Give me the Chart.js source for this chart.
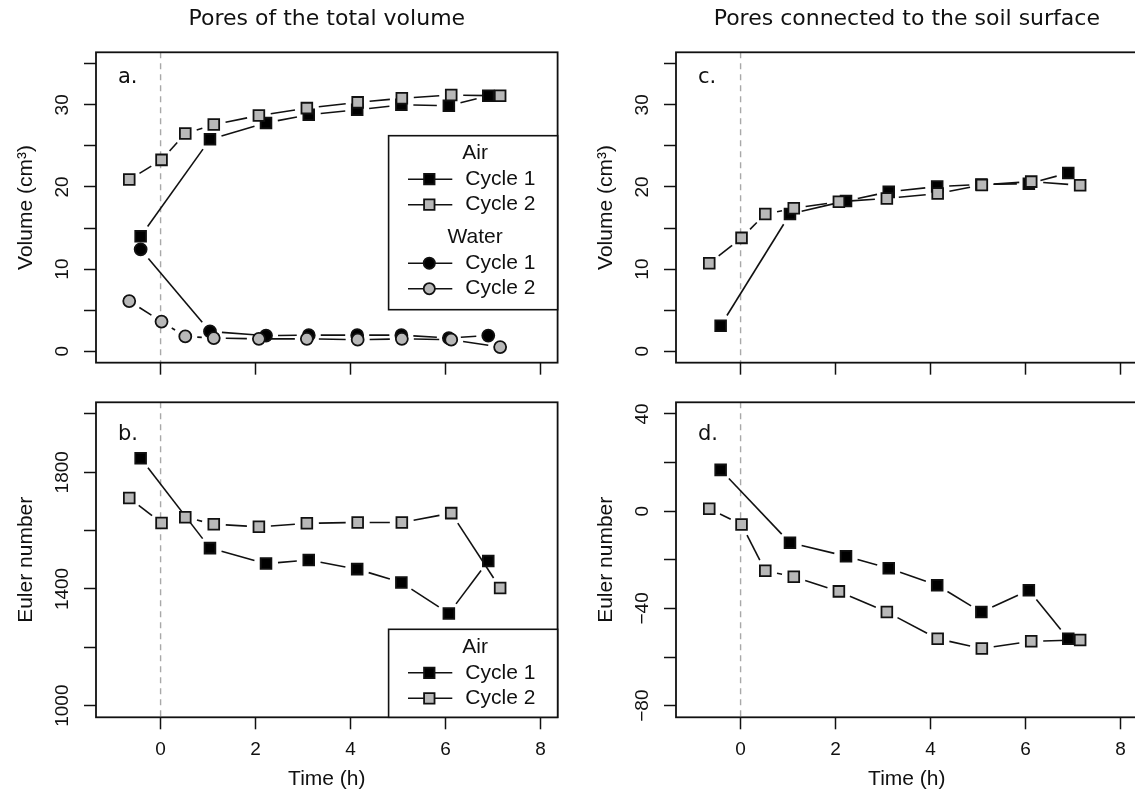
<!DOCTYPE html>
<html>
<head>
<meta charset="utf-8">
<title>Pores of the total volume / connected to the soil surface</title>
<script src="https://cdn.jsdelivr.net/npm/chart.js@4.4.1/dist/chart.umd.min.js"></script>
<style>
  html, body { margin: 0; padding: 0; background: #fff; width: 1135px; height: 796px; overflow: hidden; }
  canvas { position: absolute; }
  #panel-a { left: 0; top: 0; }
  #panel-b { left: 0; top: 385px; }
  #panel-c { left: 580px; top: 0; }
  #panel-d { left: 580px; top: 385px; }
</style>
</head>
<body>
<canvas id="panel-a" width="567" height="385"></canvas>
<canvas id="panel-b" width="567" height="411"></canvas>
<canvas id="panel-c" width="567" height="385"></canvas>
<canvas id="panel-d" width="567" height="411"></canvas>
<script>
// ---- data ----
const eventTime = 0;

const timeLim = [-1, 8];
const timeStep = 2;
const timeTickLabels = [0, 2, 4, 6, 8];

const volumeLim = [0, 35];
const volumeStep = 5;
const volumeTickLabels = [0, 10, 20, 30];

const eulerLim = [1000, 2000];
const eulerStep = 200;
const eulerTickLabels = [1000, 1400, 1800];

const surfEulerLim = [-80, 40];
const surfEulerStep = 20;
const surfEulerTickLabels = [-80, -40, 0, 40];

const cycle1Time = [-0.42, 1.04, 2.22, 3.12, 4.14, 5.07, 6.07, 6.90];
const cycle2Time = [-0.66, 0.02, 0.52, 1.12, 2.07, 3.08, 4.15, 5.08, 6.12, 7.15];

// a. pores of the total volume
const airVolC1 = [14.0, 25.8, 27.8, 28.8, 29.4, 30.0, 29.9, 31.1];
const airVolC2 = [20.9, 23.3, 26.5, 27.6, 28.7, 29.6, 30.3, 30.8, 31.2, 31.1];
const waterVolC1 = [12.4, 2.4, 1.9, 1.95, 1.95, 1.95, 1.6, 1.9];
const waterVolC2 = [6.1, 3.6, 1.8, 1.6, 1.5, 1.5, 1.4, 1.5, 1.4, 0.5];
// b.
const eulerC1 = [1848, 1540, 1487, 1499, 1468, 1422, 1316, 1496];
const eulerC2 = [1712, 1626, 1646, 1622, 1613, 1625, 1628, 1628, 1660, 1403];
// c. pores connected to the soil surface
const surfVolC1 = [3.1, 16.7, 18.3, 19.4, 20.05, 20.3, 20.4, 21.7];
const surfVolC2 = [10.7, 13.8, 16.7, 17.4, 18.2, 18.6, 19.2, 20.25, 20.65, 20.2];
// d.
const surfEulerC1 = [17, -13, -18.5, -23.5, -30.5, -41.5, -32.5, -52.5];
const surfEulerC2 = [1, -5.5, -24.5, -27, -33, -41.5, -52.5, -56.5, -53.5, -53];

// ---- look ----
const SANS = '"Liberation Sans", Arial, sans-serif';
const WIDE = '"DejaVu Sans", Verdana, sans-serif';
const TICK_SIZE = 19;
const LABEL_SIZE = 21;
const GREY = '#b8b8b8';
const LINE_W = 1.6;
const GAP = 12; // gap left round each point, like R type = "b"

Chart.defaults.color = '#111';
Chart.defaults.font.family = SANS;

const fmt = v => (v < 0 ? '\u2212' + Math.abs(v) : String(v));
const expand = ([lo, hi]) => [lo - 0.04 * (hi - lo), hi + 0.04 * (hi - lo)];
const pts = (xs, ys) => xs.map((x, i) => ({ x, y: ys[i] }));

const measureCtx = document.createElement('canvas').getContext('2d');
function yTickPad(labels) {
    measureCtx.font = `${TICK_SIZE}px ${SANS}`;
    const widest = Math.max(...labels.map(v => measureCtx.measureText(fmt(v)).width));
    return 21.5 - widest / 2;
}

function series(label, group, xs, ys, shape, fill) {
    return {
        label, group,
        data: pts(xs, ys),
        pointStyle: shape,
        pointRadius: shape === 'rect' ? 7.6 : 6,
        backgroundColor: fill,
        borderColor: '#111',
        borderWidth: 1.8,
    };
}

const panelDecor = {
    id: 'panelDecor',
    beforeDatasetsDraw(chart) {
        const { ctx, chartArea: a, scales: { x } } = chart;
        ctx.save();
        ctx.beginPath();
        ctx.rect(a.left, a.top, a.width, a.height);
        ctx.clip();

        // dashed line at the start of the drying
        const x0 = x.getPixelForValue(eventTime);
        ctx.strokeStyle = '#a8a8a8';
        ctx.lineWidth = 1.4;
        ctx.setLineDash([6, 5]);
        ctx.beginPath();
        ctx.moveTo(x0, a.top);
        ctx.lineTo(x0, a.bottom);
        ctx.stroke();
        ctx.setLineDash([]);

        // connecting lines, broken round each point
        ctx.strokeStyle = '#111';
        ctx.lineWidth = LINE_W;
        chart.data.datasets.forEach((ds, i) => {
            const els = chart.getDatasetMeta(i).data;
            for (let k = 1; k < els.length; k++) {
                const p = els[k - 1], q = els[k];
                const dx = q.x - p.x, dy = q.y - p.y;
                const len = Math.hypot(dx, dy);
                if (len <= 2 * GAP + 1) continue;
                const ux = dx / len, uy = dy / len;
                ctx.beginPath();
                ctx.moveTo(p.x + ux * GAP, p.y + uy * GAP);
                ctx.lineTo(q.x - ux * GAP, q.y - uy * GAP);
                ctx.stroke();
            }
        });
        ctx.restore();
    },
    afterDatasetsDraw(chart, args, opts) {
        const { ctx, chartArea: a } = chart;
        ctx.save();

        // frame
        ctx.strokeStyle = '#111';
        ctx.lineWidth = 1.8;
        ctx.strokeRect(a.left, a.top, a.width, a.height);

        // panel letter
        ctx.fillStyle = '#111';
        ctx.font = `${LABEL_SIZE}px ${WIDE}`;
        ctx.textAlign = 'left';
        ctx.textBaseline = 'alphabetic';
        ctx.fillText(opts.letter, a.left + 22, a.top + opts.letterY);

        // legend with group headings
        const lg = opts.legend;
        if (lg) {
            const w = 169;
            const left = a.right - w;
            const top = lg.bottom ? a.bottom - lg.height : a.top + lg.top;
            ctx.fillStyle = '#fff';
            ctx.fillRect(left, top, w, lg.height);
            ctx.strokeStyle = '#111';
            ctx.lineWidth = 1.6;
            ctx.strokeRect(left, top, w, lg.height);

            ctx.font = `${LABEL_SIZE}px ${SANS}`;
            ctx.textBaseline = 'middle';
            let y = top + 18;
            lg.groups.forEach((g, gi) => {
                if (gi > 0) y += 33;
                ctx.fillStyle = '#111';
                ctx.textAlign = 'center';
                ctx.fillText(g, left + w / 2 + 2, y);
                chart.data.datasets.filter(ds => ds.group === g).forEach(ds => {
                    y += 25.5;
                    ctx.strokeStyle = '#111';
                    ctx.lineWidth = LINE_W;
                    ctx.beginPath();
                    ctx.moveTo(left + 19.4, y);
                    ctx.lineTo(left + 63.7, y);
                    ctx.stroke();
                    ctx.fillStyle = ds.backgroundColor;
                    ctx.lineWidth = ds.borderWidth;
                    Chart.helpers.drawPoint(ctx, {
                        pointStyle: ds.pointStyle,
                        radius: ds.pointStyle === 'rect' ? 7.4 : 5.6,
                        borderWidth: ds.borderWidth,
                        rotation: 0
                    }, left + 40.7, y);
                    ctx.fillStyle = '#111';
                    ctx.textAlign = 'left';
                    ctx.fillText(ds.label, left + 76.7, y);
                });
            });
        }
        ctx.restore();
    }
};

function makePanel(id, cfg) {
    const top = cfg.title !== undefined;
    const [xMin, xMax] = expand(timeLim);
    const [yMin, yMax] = expand(cfg.yLim);
    const datasets = cfg.datasets.map((ds, i, all) => ({ ...ds, order: all.length - 1 - i }));

    return new Chart(document.getElementById(id), {
        type: 'scatter',
        data: { datasets },
        options: {
            responsive: false,
            animation: false,
            events: [],
            layout: { padding: { left: 0, right: 6, top: top ? 0 : 17.3, bottom: 0 } },
            scales: {
                x: {
                    type: 'linear',
                    min: xMin, max: xMax,
                    afterFit: s => { s.height = top ? 17.6 : 78.7; },
                    border: { display: false },
                    grid: { drawOnChartArea: false, drawTicks: true, tickLength: 12, tickWidth: 1.5, tickColor: '#111' },
                    ticks: {
                        display: !top,
                        stepSize: timeStep,
                        includeBounds: false,
                        autoSkip: false,
                        maxRotation: 0,
                        padding: 9.3,
                        font: { size: TICK_SIZE },
                        callback: v => timeTickLabels.includes(v) ? fmt(v) : ''
                    },
                    title: {
                        display: !top,
                        text: 'Time (h)',
                        font: { size: LABEL_SIZE },
                        padding: { top: 0, bottom: 4.4 }
                    }
                },
                y: {
                    type: 'linear',
                    min: yMin, max: yMax,
                    afterFit: s => { s.width = 96; },
                    border: { display: false },
                    grid: { drawOnChartArea: false, drawTicks: true, tickLength: 12, tickWidth: 1.5, tickColor: '#111' },
                    ticks: {
                        stepSize: cfg.yStep,
                        includeBounds: false,
                        autoSkip: false,
                        minRotation: 90,
                        maxRotation: 90,
                        crossAlign: 'center',
                        padding: yTickPad(cfg.yLabels),
                        font: { size: TICK_SIZE },
                        callback: v => cfg.yLabels.some(l => Math.abs(l - v) < 1e-9) ? fmt(v) : ''
                    },
                    title: {
                        display: true,
                        text: cfg.yTitle,
                        font: { size: LABEL_SIZE },
                        padding: { top: 13.4, bottom: 0 }
                    }
                }
            },
            plugins: {
                legend: { display: false },
                tooltip: { enabled: false },
                title: {
                    display: top,
                    text: cfg.title,
                    fullSize: false,
                    font: { family: WIDE, size: 22, weight: 'normal' },
                    color: '#111',
                    padding: { top: 6.3, bottom: 19.6 }
                },
                panelDecor: { letter: cfg.letter, letterY: top ? 31 : 37.7, legend: cfg.legend }
            }
        },
        plugins: [panelDecor]
    });
}

makePanel('panel-a', {
    title: 'Pores of the total volume',
    letter: 'a.',
    yTitle: 'Volume (cm\u00b3)',
    yLim: volumeLim, yStep: volumeStep, yLabels: volumeTickLabels,
    datasets: [
        series('Cycle 1', 'Air', cycle1Time, airVolC1, 'rect', '#000'),
        series('Cycle 2', 'Air', cycle2Time, airVolC2, 'rect', GREY),
        series('Cycle 1', 'Water', cycle1Time, waterVolC1, 'circle', '#000'),
        series('Cycle 2', 'Water', cycle2Time, waterVolC2, 'circle', GREY),
    ],
    legend: { top: 83.4, height: 174, groups: ['Air', 'Water'] }
});

makePanel('panel-b', {
    letter: 'b.',
    yTitle: 'Euler number',
    yLim: eulerLim, yStep: eulerStep, yLabels: eulerTickLabels,
    datasets: [
        series('Cycle 1', 'Air', cycle1Time, eulerC1, 'rect', '#000'),
        series('Cycle 2', 'Air', cycle2Time, eulerC2, 'rect', GREY),
    ],
    legend: { bottom: true, height: 88, groups: ['Air'] }
});

makePanel('panel-c', {
    title: 'Pores connected to the soil surface',
    letter: 'c.',
    yTitle: 'Volume (cm\u00b3)',
    yLim: volumeLim, yStep: volumeStep, yLabels: volumeTickLabels,
    datasets: [
        series('Cycle 1', 'Air', cycle1Time, surfVolC1, 'rect', '#000'),
        series('Cycle 2', 'Air', cycle2Time, surfVolC2, 'rect', GREY),
    ]
});

makePanel('panel-d', {
    letter: 'd.',
    yTitle: 'Euler number',
    yLim: surfEulerLim, yStep: surfEulerStep, yLabels: surfEulerTickLabels,
    datasets: [
        series('Cycle 1', 'Air', cycle1Time, surfEulerC1, 'rect', '#000'),
        series('Cycle 2', 'Air', cycle2Time, surfEulerC2, 'rect', GREY),
    ]
});
</script>
</body>
</html>
